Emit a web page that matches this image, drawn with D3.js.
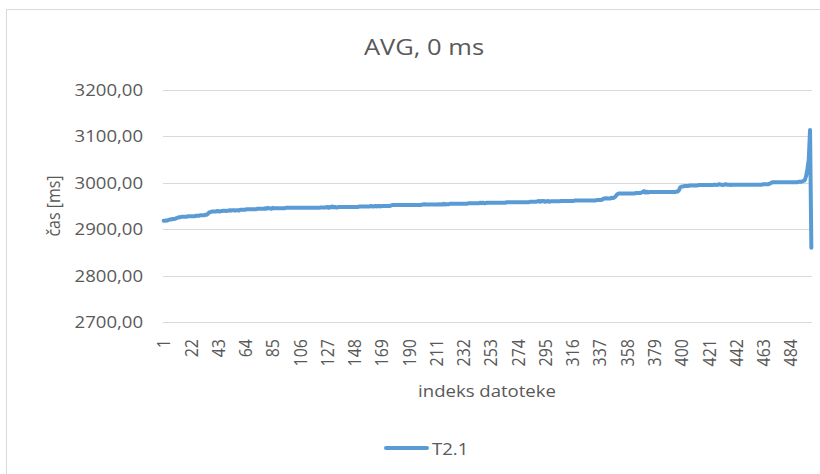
<!DOCTYPE html>
<html>
<head>
<meta charset="utf-8">
<script src="https://cdn.jsdelivr.net/npm/d3@7"></script>
<style>
  html, body { margin: 0; padding: 0; background: #fff; }
  svg { display: block; }
  text { font-family: "Open Sans", "Noto Sans", sans-serif; fill: #595959; }
</style>
</head>
<body>
<svg id="chart" width="820" height="474"></svg>
<script>
// ---- data ----
const title = "AVG, 0 ms";
const seriesName = "T2.1";
const xTitle = "indeks datoteke";
const yTitle = "čas [ms]";
const yTicks = [2700, 2800, 2900, 3000, 3100, 3200];
const xTickLabels = [1, 22, 43, 64, 85, 106, 127, 148, 169, 190, 211, 232, 253, 274, 295, 316, 337, 358, 379, 400, 421, 442, 463, 484];
const values = [
2918,2918,2919,2919,2920,2921,2921,2922,2922,2923,2924,2925,2926,2926,2927,2927,2927,2927,2927,2928,2928,2928,2928,2928,2928,
2929,2929,2929,2930,2930,2930,2930,2931,2931,2933,2936,2937,2938,2938,2938,2938,2939,2939,2938,2939,2939,2940,2940,2939,2940,
2940,2941,2940,2941,2941,2940,2941,2941,2940,2942,2942,2942,2942,2942,2943,2943,2943,2943,2943,2943,2943,2943,2944,2944,2944,
2944,2944,2944,2945,2944,2946,2945,2945,2944,2946,2945,2945,2945,2945,2945,2945,2945,2945,2945,2946,2946,2946,2946,2946,2946,
2946,2946,2946,2946,2946,2946,2946,2946,2946,2946,2946,2946,2946,2946,2946,2946,2946,2946,2946,2946,2946,2947,2947,2947,2947,
2947,2948,2946,2948,2947,2949,2947,2948,2947,2947,2948,2948,2948,2948,2948,2948,2948,2948,2948,2948,2948,2948,2948,2948,2948,
2948,2949,2949,2949,2949,2949,2949,2949,2949,2949,2950,2949,2949,2950,2949,2950,2950,2949,2950,2950,2950,2950,2950,2950,2950,
2951,2952,2952,2952,2952,2952,2952,2952,2952,2952,2952,2952,2952,2952,2952,2952,2952,2952,2952,2952,2952,2952,2952,2952,2953,
2953,2954,2953,2953,2953,2953,2953,2953,2953,2953,2953,2953,2954,2953,2954,2953,2955,2953,2954,2954,2954,2955,2955,2955,2955,
2955,2955,2955,2955,2955,2955,2955,2955,2955,2955,2956,2956,2956,2956,2956,2956,2956,2956,2956,2957,2956,2957,2956,2956,2957,
2957,2957,2957,2957,2957,2957,2957,2957,2957,2957,2957,2957,2957,2957,2958,2958,2958,2958,2958,2958,2958,2958,2958,2958,2958,
2958,2958,2958,2958,2958,2958,2958,2959,2959,2959,2959,2959,2959,2960,2961,2959,2961,2960,2961,2959,2960,2961,2959,2960,2960,
2960,2960,2960,2960,2960,2960,2961,2961,2961,2961,2961,2961,2961,2961,2961,2961,2961,2962,2962,2962,2962,2962,2962,2962,2962,
2962,2962,2962,2962,2962,2962,2962,2962,2962,2963,2963,2963,2963,2964,2966,2966,2967,2966,2966,2966,2968,2967,2968,2970,2974,
2976,2977,2977,2977,2977,2977,2977,2977,2977,2977,2977,2977,2977,2977,2978,2978,2978,2978,2979,2980,2982,2979,2981,2979,2980,
2980,2980,2980,2980,2980,2980,2980,2980,2980,2980,2980,2980,2980,2980,2980,2980,2980,2980,2980,2980,2981,2981,2984,2990,2992,
2992,2993,2993,2993,2993,2994,2994,2994,2994,2994,2994,2994,2995,2995,2995,2995,2995,2995,2995,2995,2995,2995,2995,2995,2996,
2996,2995,2996,2997,2996,2996,2995,2996,2997,2996,2996,2996,2995,2996,2996,2996,2996,2996,2996,2996,2996,2996,2996,2996,2996,
2996,2996,2996,2996,2996,2996,2996,2996,2996,2996,2996,2996,2997,2997,2997,2997,2997,2998,3000,3001,3001,3001,3001,3001,3001,
3001,3001,3001,3001,3001,3001,3001,3001,3001,3001,3001,3001,3001,3001,3002,3002,3002,3003,3004,3006,3015,3030,3050,3114,2860
];
const indices = values.map((v, i) => i + 1);

// ---- layout ----
const svg = d3.select("#chart");
const SX = 1.16; // horizontal text stretch seen in the reference
const plot = { left: 163, right: 812, top: 90, bottom: 322 };
const lineColor = "#5b9bd5";
const gridColor = "#d9d9d9";

// chart area border
svg.append("rect")
  .attr("x", 6.5).attr("y", 9.5)
  .attr("width", 900).attr("height", 600)
  .attr("fill", "#fff").attr("stroke", gridColor).attr("stroke-width", 1);

const x = d3.scaleBand().domain(indices).range([plot.left, plot.right]).padding(0);
const y = d3.scaleLinear().domain([2700, 3200]).range([plot.bottom, plot.top]);
const cx = i => x(i) + x.bandwidth() / 2;

const locale = d3.formatLocale({ decimal: ",", thousands: "", grouping: [3], currency: ["", ""] });
const fmt = locale.format(".2f");

// gridlines
svg.append("g").selectAll("line").data(yTicks).join("line")
  .attr("x1", plot.left).attr("x2", plot.right)
  .attr("y1", d => Math.round(y(d)) + 0.5).attr("y2", d => Math.round(y(d)) + 0.5)
  .attr("stroke", gridColor).attr("stroke-width", 1);

// y axis (labels only)
const yAxis = svg.append("g")
  .attr("transform", `translate(${plot.left},0)`)
  .call(d3.axisLeft(y).tickValues(yTicks).tickSize(0).tickPadding(0).tickFormat(fmt));
yAxis.select(".domain").remove();
yAxis.selectAll("text")
  .attr("x", 0).attr("dy", null)
  .attr("transform", `translate(-20,5.5) scale(${SX},1)`)
  .style("font-size", "16px")
  .attr("fill", "#595959");

// x axis (labels only)
const xAxis = svg.append("g")
  .attr("transform", `translate(0,${plot.bottom})`)
  .call(d3.axisBottom(x).tickValues(xTickLabels).tickSize(0).tickPadding(0));
xAxis.select(".domain").remove();
xAxis.selectAll("text")
  .attr("x", 0).attr("y", 0).attr("dy", "0.36em")
  .attr("text-anchor", "end")
  .attr("transform", `translate(0,17) scale(${SX},1) rotate(-90)`)
  .style("font-size", "16px")
  .attr("fill", "#595959");

// series line
const line = d3.line().x((d, i) => cx(indices[i])).y(d => y(d));
svg.append("path")
  .datum(values)
  .attr("d", line)
  .attr("fill", "none")
  .attr("stroke", lineColor)
  .attr("stroke-width", 4)
  .attr("stroke-linejoin", "round")
  .attr("stroke-linecap", "round");

// title
svg.append("text")
  .attr("transform", `translate(424,55) scale(${SX},1)`)
  .attr("text-anchor", "middle")
  .style("font-size", "22px")
  .text(title);

// axis titles
svg.append("text")
  .attr("transform", `translate(53,206) scale(${SX},1) rotate(-90)`)
  .attr("text-anchor", "middle").attr("dy", "0.35em")
  .style("font-size", "16px")
  .text(yTitle);

svg.append("text")
  .attr("transform", `translate(487,397) scale(${SX},1)`)
  .attr("text-anchor", "middle")
  .style("font-size", "16px")
  .text(xTitle);

// legend
svg.append("line")
  .attr("x1", 386).attr("x2", 427).attr("y1", 448).attr("y2", 448)
  .attr("stroke", lineColor).attr("stroke-width", 4).attr("stroke-linecap", "round");
svg.append("text")
  .attr("transform", `translate(432,455) scale(${SX},1)`)
  .style("font-size", "16px")
  .text(seriesName);
</script>
</body>
</html>
